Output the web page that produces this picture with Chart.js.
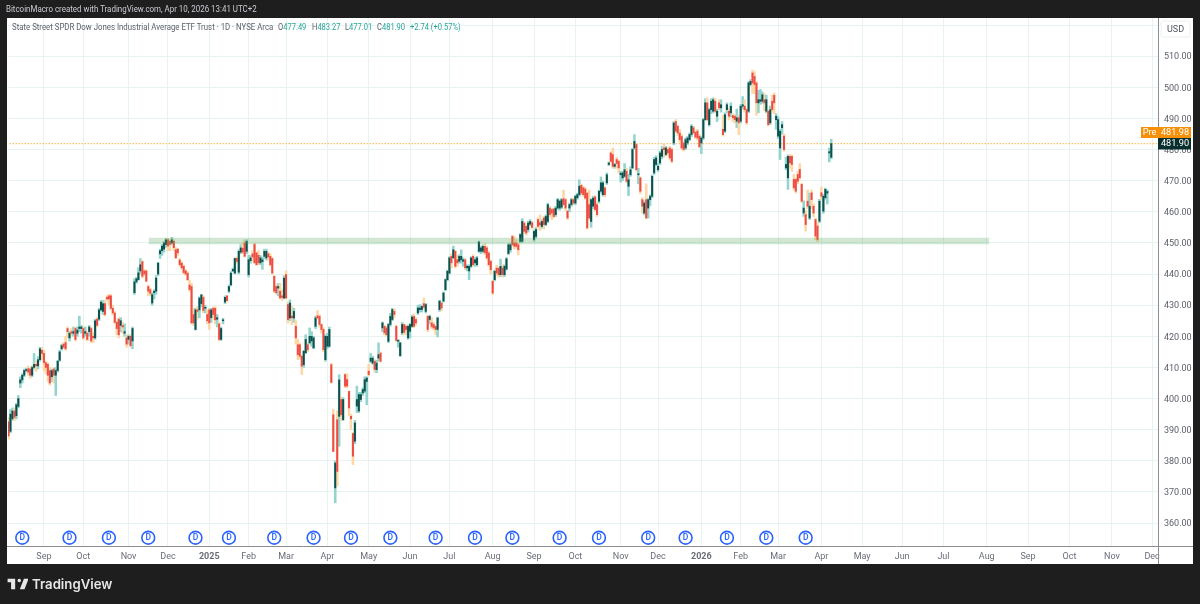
<!DOCTYPE html>
<html><head><meta charset="utf-8">
<script src="https://cdn.jsdelivr.net/npm/chart.js@4/dist/chart.umd.min.js"></script>
<style>
html,body{margin:0;padding:0;background:#1e1e1e;width:1200px;height:604px;overflow:hidden}
#panel{position:absolute;left:7px;top:18px;width:1186px;height:546px;background:#fff}
canvas{position:absolute;left:0;top:0}
.t{position:absolute;white-space:nowrap;font-family:"Roboto",sans-serif}
#top{left:6px;top:3px;font-size:8.6px;line-height:12px;color:#c9ccd2;transform:scaleX(.923);transform-origin:left center}
#legend{left:12px;top:21px;font-size:8.4px;line-height:12px;color:#5d606b;transform:scaleX(.935);transform-origin:left center}
.v{top:21px;font-size:8.4px;line-height:12px;color:#5d606b;transform:scaleX(.9);transform-origin:left center}
.v b{font-weight:400;color:#26a69a}
#brand{left:32px;top:575px;font-size:13.2px;line-height:19px;font-weight:600;color:#e6e6e6;font-family:"Inter",sans-serif}
#logo{position:absolute;left:7px;top:577px}
</style></head><body>
<div id="panel"></div>
<canvas id="c" width="1200" height="604"></canvas>
<div class="t" id="top">BitcoinMacro created with TradingView.com, Apr 10, 2026 13:41 UTC+2</div>
<div class="t" id="legend">State Street SPDR Dow Jones Industrial Average ETF Trust · 1D · NYSE Arca</div>
<div class="t v" style="left:278px">O<b>477.49</b></div>
<div class="t v" style="left:312px">H<b>483.27</b></div>
<div class="t v" style="left:345px">L<b>477.01</b></div>
<div class="t v" style="left:377px">C<b>481.90</b></div>
<div class="t v" style="left:410px"><b>+2.74 (+0.57%)</b></div>
<svg id="logo" width="21" height="14" viewBox="0 0 36 24"><path fill="#e6e6e6" d="M14 3H1v6h6v12h7V3zm16 18h-8l7-18h8l-7 18zM21 9a3 3 0 1 0 0-6 3 3 0 0 0 0 6z"/></svg>
<div class="t" id="brand">TradingView</div>
<script>
const opens=[392.5,389.5,393.5,396,394.5,397.5,405,406,407.5,409,
409.6,409.5,407.5,410,411,410.5,412.5,415.5,414.5,411.5,
411,409,407,409.5,407.5,409,412.3,416,417.5,418,
422.5,419.5,421.5,421,422.5,421,422.5,422.5,422.5,421,
421,421.5,422.5,420,419.5,425.5,425.5,428.5,428,430.5,
432.5,433,433,429,427.5,424.5,425.5,423.5,423.5,421,
419.5,419,420,418.5,434,437.5,438.2,441,444,441,
441,436,435,430.7,434,434.5,440,446.5,447.5,448,
449.5,451,450.5,450,450.5,447.8,448,444.5,443.5,442.5,
441,440.3,436.5,436,427,422.2,428.5,428.5,430.5,432.5,
429,427,428.5,426,429,429,425.5,424,419,425,
431,433,434.5,436.5,441,440.3,445,440.6,447,448.3,
450,447.3,439.8,444.3,446.5,449.5,446.8,446,443.6,444,
445.7,445.2,446.5,445.7,445,439.3,436,435.5,434.5,433,
432.3,439.8,430.2,425.9,426.5,425.9,423.2,417.3,417.3,413.6,
410.9,414.7,417.3,417.9,418.5,416.3,423.2,426.6,426.4,423.8,
422.2,412.5,416.8,416.8,410.9,394.8,371.3,393.2,394.3,399.7,
393.2,407.7,406.1,402.3,394.3,388.8,386.3,397.6,396,399.7,
401.8,402.4,405.5,408.8,412,411.4,412,409.3,413,414.6,
422.7,423.2,422.7,418.4,423.8,425.4,428,423.2,418.4,413.8,
421.1,423.8,423.2,419.5,421.6,423.2,426.4,425.4,427.5,428.6,
428.6,430.5,428,426.4,425.4,424.3,423.8,423.2,422.2,428.6,
430.7,431.3,435,438.2,440.3,445.7,445.2,447.3,444.6,444.1,
444.6,444.1,444.6,442,441,442.5,445.7,443.6,443,447.3,
447.3,447.3,448.9,448.4,446.8,444.1,437.7,438.2,441.9,441.9,
439.8,441.9,439.8,441.6,446.6,447.8,452.1,450,450,449.4,
450.5,450.5,456.4,455.3,454.3,456,456.5,451.1,452.1,457.5,
456.5,455.3,458,455.9,456.9,461.2,460.7,460.9,459.1,461.2,
461.2,461.5,464.2,463.9,460.2,461.2,462.3,463.9,462.8,464.5,
465.5,468.5,467.7,467.3,466,462.3,456.9,461.8,464.8,462.3,
463.4,466.6,465.5,467.7,469.3,475.2,478.9,478.4,474.6,476.8,
476.2,471.9,470.9,471.4,473,468.2,471.9,474.1,480.5,481.6,
471.9,470.9,463.9,459.6,463.9,461.2,463.9,465,472.5,475.2,
473.5,475.7,477.8,480.5,478.4,480,480.5,480,482.1,489,
487.5,485.3,484.2,482.1,480.5,482.1,483.2,484.8,487,485.5,
485.9,484.3,482.1,483.7,489.6,495,488,492.8,492.3,495.5,
490.7,495,493.4,486.5,485.9,492.8,492.3,491.8,490.9,490.7,
489.1,490.2,489.1,493.9,493.9,492.8,492.3,500.9,504.6,503.5,
501.4,495,495.5,495.5,496,492.3,492.3,488.6,495.5,497.4,
489.6,484.3,480.5,487,484.3,474.1,470.9,477.8,477.8,470.4,
470.4,472,473.6,468.8,459.6,459.1,463.4,458,466.1,461.8,
457.5,455.4,457,466.1,460.2,464.5,466,478.9,477.49];
const highs=[394,396.5,397,397,398.5,401,407,408,409.5,409.8,
410.5,410,410.5,414.5,412,413.5,416.5,416.5,415.5,412,
411.5,410,409.5,410,410,412.3,415.5,417.5,418,420,
423,421.5,422.5,423,423,423,426.5,423.5,423,423,
421.5,423.5,423,421,425.5,426,429,431.5,431.5,431.5,
433,433.5,433.5,430,428,425,426,426,424.5,424,
420.5,420.5,420.5,423,438.5,439,442,445,444.3,441.5,
441.3,436.5,435.5,434,435,439.5,443.8,448,449.5,450.5,
451.5,451.5,451,451.8,451,448.5,448.2,445,444,443,
441.5,440.8,438,437,429,429,429.5,432.7,433.5,433,
430,428.5,429,429,429.5,429.5,427,424.5,423,425.8,
433,433,436.5,440.8,442,445.2,445.5,447.8,449.5,450,
451,451,446,446,447.5,450,447,447.5,446,445.5,
448,448,447,446.5,445.3,439.5,436.5,437,437,435,
439.5,441,431,431.7,429.6,429,425,419,417.8,414,
415.5,420.5,418,422.7,421.5,420,426.5,428.3,427,424,
422.8,420.5,421,423,411.3,396.5,380,396,407.7,400.5,
400.3,408,408,402.5,395,389,393,404,402,402,
403.5,407,407,411,414.5,413.6,412.5,412.3,417.9,415,
424.6,423.6,423.2,424.2,427.4,429,428.8,423.6,419,418,
424.5,424,423.6,423.6,424.2,426.8,427.2,426,430,430.2,
430,432.3,430.6,426.8,426.8,426,424.5,423.5,426.2,431.6,
431,434.3,438.5,441.3,445.6,446.5,449,447.6,446,446.2,
447.8,445.2,445,443,443,445.6,446.2,445.4,445.7,450.6,
449,449.4,449.8,448.9,447.2,444.5,438,441.3,442.8,442.2,
444.8,443,443,445.3,449.8,450,452.5,452,451,450,
453,457.8,456.8,455.8,457,457.5,457,454.2,455,458,
459,457.5,458.5,459,462.8,461.8,461,461.2,461.8,464.3,
463.8,464.3,467,464.3,460.5,462.8,464.3,464.5,465.4,466,
470.3,468.9,468.2,467.7,466.4,467,464.2,465,465.2,463,
467,471.2,469.8,468,472.5,476,479.3,480.5,475.6,477.5,
476.6,473,473,475.5,474,472,474.5,480.4,484.8,482,
474,471.2,464.5,463.5,469,464.3,465.5,471.8,477.5,478,
475.5,479.5,481,482,481,480.5,481,480.5,489,489.6,
487.8,486.5,484.8,482.6,483.8,484.2,485.3,488,487.5,486,
486.5,484.8,484.2,490,496.3,496.6,493.3,496.3,496.6,496.5,
493,496,496,491,491.8,495,493.2,495,491.5,491.2,
493,491,494.5,497,496,493.2,501.8,502.5,505.5,505,
501.8,499,499.3,498.5,498,497.5,492.8,494,497.5,498.2,
491.5,490.5,486.5,489,485,477.5,478.3,478.5,478.2,472,
470.8,473,475.5,469.2,463.5,460.5,467,466,467,462.5,
458,456.5,464,468,465.5,467.6,467,480.5,483.27];
const lows=[387,389,393,393,393.5,397,403.5,405,407,408.5,
407.5,406.5,407,409.5,408.7,409.5,412,412.5,409,408,
405.5,404.3,405.5,405,401,408.5,412,415.5,416,415.5,
419.5,418.5,420,420,418.5,420,421.5,421,419,420,
418.5,420,418,418,419,423,425,428,427,426.5,
431.5,430,428.5,427,424,420.5,419.5,421.5,421,420,
416.5,417.5,416.5,416,433.5,437,438,440,438.8,439.5,
437.5,433,433,430,432,433.5,439.5,445,446,447,
448.5,447.5,447.5,449.5,447.5,445,446,442.5,441.5,440,
439.5,437.8,434.5,424,423.5,422,425.5,426,429.5,427.5,
427.5,424,422.2,424.5,425.5,424,423,418.5,418.7,424,
430.5,431,434,436.2,440.8,440,443.5,440,446.5,446.5,
445.5,446.5,439,443.5,444,443.5,442.8,443,443,441.5,
445,444.5,444.5,442.5,440,434,433.5,433,432,431.5,
432,432,424.3,425,423.8,424.5,417.5,412.5,412.8,407.7,
410,414.5,415,417.5,416.8,416,422.5,425.5,423,421,
415,412,416,416.5,405,383,366.5,372,384.7,393,
393,403.5,403.5,394.5,390,378.8,385.5,395.5,395.5,399,
401,401.8,398,407.2,411.5,411,408.5,408.3,412,411.7,
421.5,420.5,420,418,423.3,425,426,418.3,416.5,413.5,
420.5,420.5,420.5,419,419.5,422.8,422.8,423.5,427,427.8,
427.8,428.8,427.5,421.5,424,422.5,422,420.5,419.8,428,
428.3,431,434.7,437.8,440,442,445,442,442.5,443.5,
443.5,442.5,441.5,441,438.2,442,442.5,442.5,442.5,447,
446.5,446.8,446.3,444.7,442.5,440,433.4,437.8,439.5,439,
439.2,439,439.2,441.2,446.2,447,449,448,448.3,446.2,
450,450.2,453,452.5,453.5,455.5,454.5,450.5,451.5,454.8,
454,454.8,454.5,455.5,456.5,458.5,457.5,458,458.5,460.8,
460.5,461,461.8,460.5,457.5,460,461.8,462.3,462.3,464,
465,465.5,465,464,454.5,457.5,455,461,460.2,458.5,
462.8,466,465,464.8,468.8,474.8,475.8,474,474,474,
472.5,469.5,470,471,469.3,465.2,471.4,473.8,480,473,
469,465.8,459.5,459,457.8,458,462,464.5,472,474.8,
473,475.2,477,477.5,478,478,476.8,475.8,481.5,485.5,
484.5,482.5,480,479.5,480,481.5,482.8,484.2,485,483.5,
483,480.5,478.7,483.2,489.2,489.2,487.5,491.5,491.8,491.8,
489,492.8,492,484.3,485.4,491.8,489.5,490.5,489,488.5,
487,484.8,488.5,493,492,488,491.8,500.4,498,498,
491,491.8,494.5,494.8,492.5,491.8,487.5,488,492,491.5,
486.5,483.5,476.8,485,479.5,473.5,467.2,474,473,467,
466,469,470.5,463,458.5,453.8,461,457.5,461,458.5,
451,450.4,456.5,464,459.5,464,462.5,476,477.01];
const closes=[388,395,396,394,398,400,406,407.5,409,409.3,
408.5,407.5,410,411,410.5,412.5,416,414.5,411.5,410,
407.5,405,409,407.5,409,412,415,417,416.5,416,
421.5,421,421,421.5,419,422,423,423,419.5,421.5,
419,423,418.5,419.5,425,423.5,428.5,431,430.5,427,
432,432,429,427.5,424.5,422.5,420.5,425,423,421.5,
417.5,420,417,422.5,437.5,438.5,440.4,443,439.3,440,
437.7,434.5,433.8,433.4,434.5,438.7,443.5,447.5,449,450,
451,449,449.5,451,448.5,445.2,446.8,443,442,440.5,
440,438.2,435,424.3,424.3,428.5,428,432.3,433.3,428.3,
429.3,425,424.3,428.5,427,425.3,426,419,422.5,425.3,
432.5,431.5,436,440.3,441.5,445,444.1,447.3,448.4,447,
445.7,450.5,444.6,445.2,445.5,443.6,443,443.6,445.2,444.6,
447.3,447.3,445.5,443,440.3,434.5,434,436,432.3,432.5,
438.7,432.3,425.4,430.7,425.9,428,419.5,414.1,413.6,410.4,
415.2,419,415.7,420,420,419.5,425.9,425.9,423.8,422.2,
415.7,420,420,422.2,405.2,383,379.3,376.6,406,394.8,
399.7,404,404,397,393.5,381.5,392.2,399.7,401.3,401.3,
402.9,406.1,406.6,407.7,413,413,409.4,411.4,414.1,412,
424.3,421.1,420.5,423.8,426.4,428.6,427,418.7,418.7,417.9,
423.8,421.3,422.2,423.2,423.8,426.2,423.2,424.3,429.1,429.1,
429.6,429.4,430.2,422.2,426.4,423.2,422.7,422.2,425.9,431.3,
429.1,433.9,438.2,440.9,445.2,443.6,447.8,442.5,443.6,445.7,
445.7,444.6,442,442.5,442.5,445.2,443,444.6,445.2,450.3,
448.4,448.9,446.8,445.2,443,441.4,433.9,440.9,440.3,439.8,
442.5,439.8,442.5,444.9,449.4,449.4,449.4,448.9,448.9,447.8,
452.7,456.9,453.7,453.2,456.4,456.9,455,453.7,454.3,455.3,
455.8,456.9,455.9,458.5,462.3,459.1,459.6,458.5,461.2,463.9,
463.4,463.9,462.3,461.2,458,462.3,463.9,462.8,465,465.5,
468.2,466,465.5,464.4,454.8,458,463.9,464.4,460.7,459.1,
466.6,469.3,469.3,465.5,471.9,475.7,476.2,474.6,475.2,475.5,
474.1,472.4,472.5,473.5,469.8,470.3,473.5,480,482.6,473.5,
472.2,466.6,461.8,462.8,458,463.9,465,471.4,476.8,477.3,
474.6,478.9,480,480,480.5,478.9,477.3,476.2,488.5,485.9,
485.3,483.2,480.5,480,483.2,483.7,484.8,487.5,485.3,484,
483.7,480.9,483.7,489.6,495,489.6,492.8,495.5,496,492.3,
492.3,493.4,494.4,484.8,491.2,494.4,490.7,493.9,490.2,489.6,
490.2,488.6,493.9,494.4,492.8,488.6,501.4,501.9,501.4,500.9,
495,496,496,497.6,495,496,488,492.8,492.8,495,
490.7,489.6,485.9,488,480,475.2,477.8,475.7,475.2,467.7,
466.6,469.8,470.9,463.4,461.2,455.9,461.8,461.8,463.9,459.6,
452.2,451.1,463.4,465,465,467.2,466.5,479.3,481.9];
const monthTicks=[18,38,61,81,102,122,141,162,183,204,224,246,267,288,311,330,352,372,391,413,433.7,454,475,497,518,539,560.6,581];
const monthLabels=["Sep","Oct","Nov","Dec","2025","Feb","Mar","Apr","May","Jun","Jul","Aug","Sep","Oct","Nov","Dec","2026","Feb","Mar","Apr","May","Jun","Jul","Aug","Sep","Oct","Nov","Dec"];
const priceTicks=[360,370,380,390,400,410,420,430,440,450,460,470,480,490,500,510,520];
const dividendBars=[7,31,51,71,95,112,135,155,174,194,217,237,256,280,300,325,344,365,385,405];
const dividendLevel=355.3;
const zoneBars=[71.3,498.2];
const zoneLevel=450.65;
const closePrice=481.90, prePrice=481.98;

const FONT='"Roboto",sans-serif';
const up=i=>closes[i]>=opens[i];
const overlay={id:'overlay',afterDraw(ch){
  const c=ch.ctx,y=ch.scales.y,x=ch.scales.x,a=ch.chartArea;
  c.save();
  c.strokeStyle='#8b8d92';c.lineWidth=1;
  c.beginPath();c.moveTo(a.right+.5,18);c.lineTo(a.right+.5,564);c.moveTo(7,a.bottom+.5);c.lineTo(1193,a.bottom+.5);c.stroke();
  c.textBaseline='middle';
  c.font='500 8.5px '+FONT;c.fillStyle='#2962ff';c.textAlign='center';
  dividendBars.forEach(b=>c.fillText('D',x.getPixelForValue(b),y.getPixelForValue(dividendLevel)+.5));
  c.fillStyle='#fff';c.strokeStyle='#eceef1';c.beginPath();c.roundRect(1161,21,29,16,2);c.fill();c.stroke();
  c.fillStyle='#50535e';c.font='9px '+FONT;c.fillText('USD',1175.5,29.5);
  const py=Math.round(y.getPixelForValue(closePrice));
  c.fillStyle='#f79009';c.fillRect(1141,py-17,50,11);
  c.fillStyle='#082f2d';c.fillRect(1158,py-6,33,11.5);
  c.fillStyle='#fff';c.font='9.2px '+FONT;
  c.fillText('Pre',1149.5,py-11);
  c.fillText(prePrice.toFixed(2),1175,py-11);
  c.fillText(closePrice.toFixed(2),1175,py);
  c.restore();
}};
new Chart(document.getElementById('c'),{
  type:'bar',
  data:{datasets:[
    {type:'line',label:'zone',order:0,data:zoneBars.map(b=>({x:b,y:zoneLevel})),borderColor:'rgba(76,160,80,.25)',borderWidth:6.5,pointRadius:0,borderCapStyle:'butt'},
    {type:'line',label:'dividends',order:1,data:dividendBars.map(b=>({x:b,y:dividendLevel})),showLine:false,pointRadius:6.4,pointBorderWidth:1.6,pointBackgroundColor:'#fff',pointBorderColor:'#2962ff'},
    {type:'line',label:'close',order:4,data:[{x:-1,y:closePrice},{x:584,y:closePrice}],borderColor:'rgba(255,152,0,.6)',borderWidth:1.2,borderDash:[1.5,1.5],pointRadius:0},
    {label:'body',order:2,grouped:false,barThickness:1.35,minBarLength:1,data:closes.map((v,i)=>({x:i,y:[opens[i],v]})),backgroundColor:closes.map((v,i)=>up(i)?'#0f4f4c':'#ee4b48')},
    {label:'wick',order:3,grouped:false,barThickness:1.9,data:closes.map((v,i)=>({x:i,y:[lows[i],highs[i]]})),backgroundColor:closes.map((v,i)=>up(i)?'#93d5ce':'#ffd6a5')}
  ]},
  options:{
    responsive:false,animation:false,devicePixelRatio:1,
    layout:{padding:{left:7,top:18,right:7,bottom:40}},
    plugins:{legend:{display:false},tooltip:{enabled:false}},
    scales:{
      x:{type:'linear',offset:false,min:-0.25,max:584,
        grid:{offset:false,color:'#e6f3f1',lineWidth:1,drawTicks:false},border:{display:false},
        afterBuildTicks(s){s.ticks=monthTicks.map(v=>({value:v}))},
        afterFit(s){s.height=18},
        ticks:{autoSkip:false,maxRotation:0,padding:5,color:'#6a6d78',
          font:c=>({family:FONT,size:9,weight:(c.tick&&(c.tick.value===102||c.tick.value===352))?'700':'400'}),
          callback:(v,i)=>monthLabels[i]}},
      y:{type:'linear',position:'right',min:352.65,max:522.25,
        grid:{color:'#e6f3f1',lineWidth:1,drawTicks:false},border:{display:false},
        afterBuildTicks(s){s.ticks=priceTicks.map(v=>({value:v}))},
        afterFit(s){s.width=35},
        ticks:{padding:6,labelOffset:1,color:'#5d606b',font:{family:FONT,size:9},
          callback:v=>v===520?'':v.toFixed(2)}}
    }
  },
  plugins:[overlay]
});
</script>
</body></html>
